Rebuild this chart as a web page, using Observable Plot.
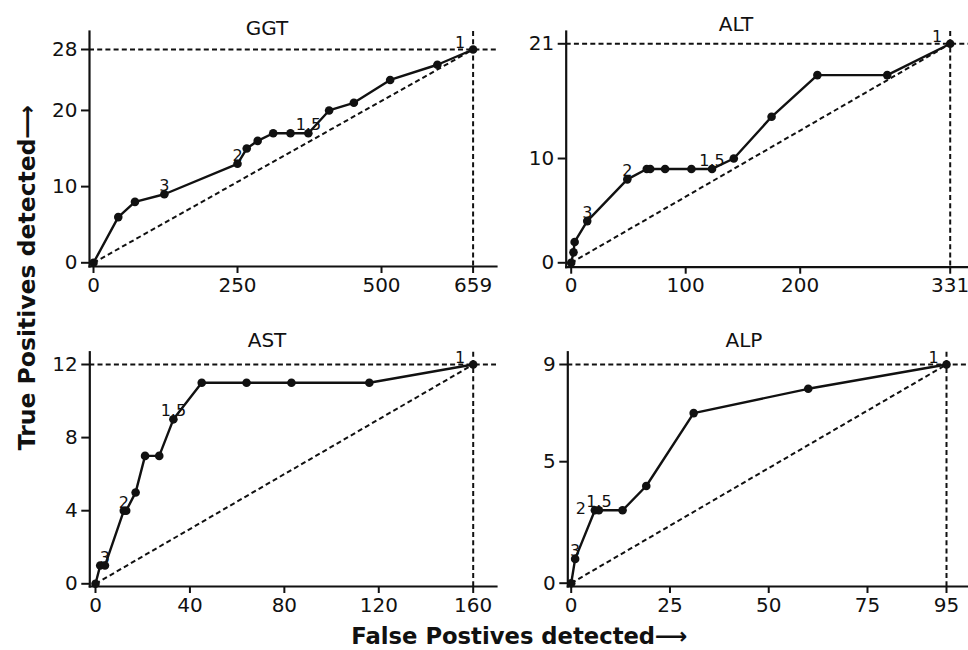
<!DOCTYPE html>
<html>
<head>
<meta charset="utf-8">
<script src="https://cdn.jsdelivr.net/npm/d3@7"></script>
<script src="https://cdn.jsdelivr.net/npm/@observablehq/plot@0.6"></script>
<style>
  html, body { margin: 0; padding: 0; background: white; }
  #fig { position: relative; width: 968px; height: 650px; overflow: hidden; background: white; }
  #fig > svg { position: absolute; }
</style>
</head>
<body>
<div id="fig"></div>
<script>
// ---- data (False positives detected, True positives detected) ----
const ggtFP = [0, 43, 72, 123, 250, 266, 285, 312, 342, 373, 409, 452, 515, 597, 659];
const ggtTP = [0, 6, 8, 9, 13, 15, 16, 17, 17, 17, 20, 21, 24, 26, 28];
const altFP = [0, 2, 3, 14, 49, 66, 69, 82, 105, 123, 142, 175, 215, 276, 331];
const altTP = [0, 1, 2, 4, 8, 9, 9, 9, 9, 9, 10, 14, 18, 18, 21];
const astFP = [0, 2, 4, 12, 13, 17, 21, 27, 33, 45, 64, 83, 116, 160];
const astTP = [0, 1, 1, 4, 4, 5, 7, 7, 9, 11, 11, 11, 11, 12];
const alpFP = [0, 1, 6, 7, 13, 19, 31, 60, 95];
const alpTP = [0, 1, 3, 3, 3, 4, 7, 8, 9];

// cut-off labels: [point index, label]
const ggtCuts = [[3, "3"], [4, "2"], [9, "1.5"], [14, "1"]];
const altCuts = [[3, "3"], [4, "2"], [9, "1.5"], [14, "1"]];
const astCuts = [[2, "3"], [3, "2"], [8, "1.5"], [13, "1"]];
const alpCuts = [[1, "3"], [2, "2"], [3, "1.5"], [8, "1"]];

// tick values
const ggtXTicks = [0, 250, 500, 659], ggtYTicks = [0, 10, 20, 28];
const altXTicks = [0, 100, 200, 331], altYTicks = [0, 10, 21];
const astXTicks = [0, 40, 80, 120, 160], astYTicks = [0, 4, 8, 12];
const alpXTicks = [0, 25, 50, 75, 95], alpYTicks = [0, 5, 9];

const titles = ["GGT", "ALT", "AST", "ALP"];
const yTitle = "True Positives detected\u27F6";
const xTitle = "False Postives detected\u27F6";

// ---- layout ----
const panels = [
  {name: titles[0], fp: ggtFP, tp: ggtTP, cuts: ggtCuts, xt: ggtXTicks, yt: ggtYTicks, left: 0, top: 0, w: 500, h: 300,
   ml: 89, mr: 4, mt: 31, mb: 34, xr: [93, 472.6], yr: [262.3, 49], west: []},
  {name: titles[1], fp: altFP, tp: altTP, cuts: altCuts, xt: altXTicks, yt: altYTicks, left: 484, top: 0, w: 484, h: 300,
   ml: 81.7, mr: 0, mt: 31, mb: 33.3, xr: [86.7, 465.7], yr: [262.3, 43.3], west: []},
  {name: titles[2], fp: astFP, tp: astTP, cuts: astCuts, xt: astXTicks, yt: astYTicks, left: 0, top: 300, w: 500, h: 330,
   ml: 89.3, mr: 4, mt: 51.7, mb: 44, xr: [95, 472.7], yr: [283.3, 64], west: []},
  {name: titles[3], fp: alpFP, tp: alpTP, cuts: alpCuts, xt: alpXTicks, yt: alpYTicks, left: 484, top: 300, w: 484, h: 330,
   ml: 83.3, mr: 0, mt: 51.7, mb: 44, xr: [86.7, 462], yr: [282.7, 64], west: ["2"]}
];

const fig = document.getElementById("fig");
const dash = "5,3.2";
const ink = "#111";

for (const p of panels) {
  const data = p.fp.map((x, i) => ({x, y: p.tp[i]}));
  const first = data[0], last = data[data.length - 1];
  const lab = p.cuts.map(([i, t]) => ({x: data[i].x, y: data[i].y, t, last: i === data.length - 1, west: p.west.includes(t)}));
  const chart = Plot.plot({
    width: p.w, height: p.h,
    marginLeft: p.ml, marginRight: p.mr, marginTop: p.mt, marginBottom: p.mb,
    style: {background: "transparent", fontFamily: "DejaVu Sans", fontSize: "20px", color: ink},
    x: {type: "linear", domain: [first.x, last.x], range: p.xr, ticks: p.xt, tickFormat: d => String(d),
        tickSize: 7, tickPadding: 4, line: true, label: null},
    y: {type: "linear", domain: [first.y, last.y], range: p.yr, ticks: p.yt, tickFormat: d => String(d),
        tickSize: 8, tickPadding: 4, line: true, label: null},
    marks: [
      Plot.ruleY([last.y], {stroke: ink, strokeWidth: 2, strokeDasharray: dash}),
      Plot.ruleX([last.x], {stroke: ink, strokeWidth: 2, strokeDasharray: dash}),
      Plot.link([{x1: first.x, y1: first.y, x2: last.x, y2: last.y}],
        {x1: "x1", y1: "y1", x2: "x2", y2: "y2", stroke: ink, strokeWidth: 2, strokeDasharray: dash}),
      Plot.line(data, {x: "x", y: "y", stroke: ink, strokeWidth: 2.4}),
      Plot.dot(data, {x: "x", y: "y", r: 4.3, fill: ink, stroke: "none"}),
      Plot.text(lab.filter(d => !d.last && !d.west), {x: "x", y: "y", text: "t", lineAnchor: "bottom", dy: -3, fontSize: 16, fill: ink}),
      Plot.text(lab.filter(d => d.last), {x: "x", y: "y", text: "t", lineAnchor: "bottom", dx: -13, dy: -2, fontSize: 16, fill: ink}),
      Plot.text(lab.filter(d => d.west), {x: "x", y: "y", text: "t", dx: -14, dy: -1, fontSize: 16, fill: ink})
    ]
  });
  // thicken the axis lines and tick marks
  chart.querySelectorAll("[aria-label]").forEach(g => {
    const a = g.getAttribute("aria-label");
    let w = null;
    if (a === "frame" || (a.includes("axis") && a.includes("line"))) w = 2.2;
    else if (a.includes("axis") && a.includes("tick") && !a.includes("label")) w = 2;
    if (w != null) {
      g.setAttribute("stroke-width", w);
      g.querySelectorAll("*").forEach(e => e.setAttribute("stroke-width", w));
    }
  });
  chart.style.left = p.left + "px";
  chart.style.top = p.top + "px";
  chart.style.maxWidth = "none";
  fig.appendChild(chart);
}

// overlay with panel titles and the shared axis titles
const ov = d3.select(fig).append("svg")
  .attr("width", 968).attr("height", 650)
  .style("left", "0px").style("top", "0px").style("pointer-events", "none")
  .attr("font-family", "DejaVu Sans").attr("fill", ink);
const titlePos = [[267, 35], [736, 31], [267, 347], [744, 347]];
titles.forEach((t, i) => ov.append("text").attr("x", titlePos[i][0]).attr("y", titlePos[i][1])
  .attr("text-anchor", "middle").attr("font-size", 20).text(t));
ov.append("text").attr("transform", "translate(35,277.5) rotate(-90)")
  .attr("text-anchor", "middle").attr("font-size", 23.5).attr("font-weight", "bold").text(yTitle);
ov.append("text").attr("x", 519.5).attr("y", 644)
  .attr("text-anchor", "middle").attr("font-size", 22.7).attr("font-weight", "bold").text(xTitle);
</script>
</body>
</html>
